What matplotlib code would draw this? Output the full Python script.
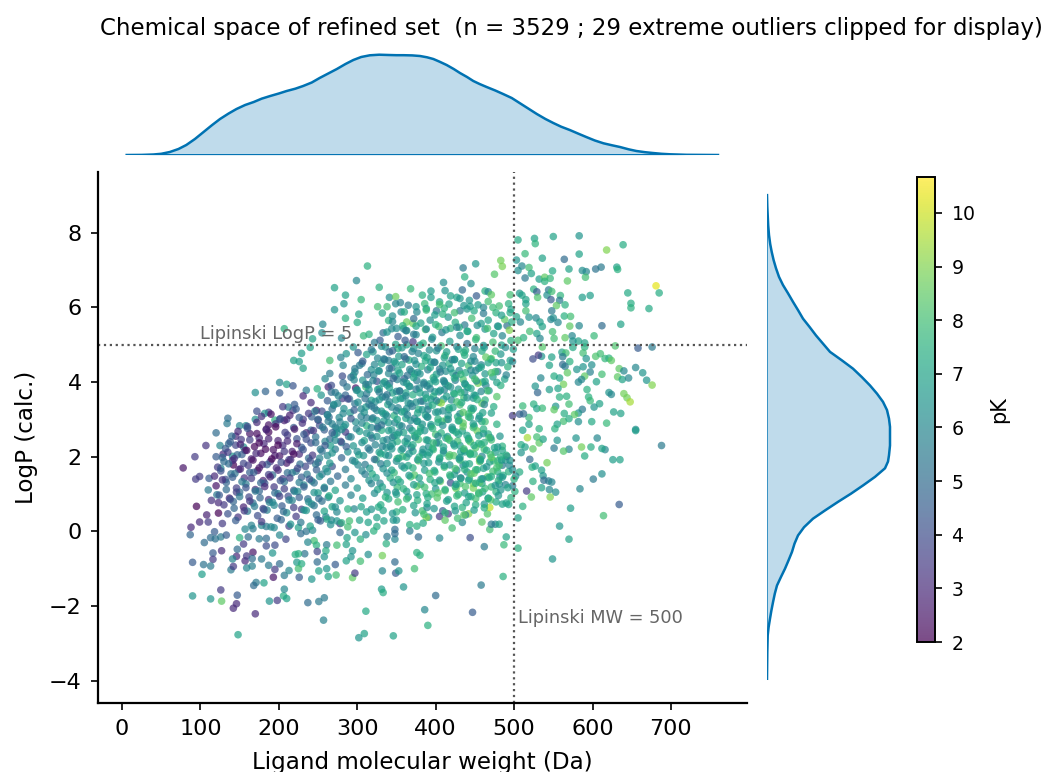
import numpy as np
import matplotlib
matplotlib.use('Agg')
import matplotlib.pyplot as plt

# points, sparse parts first, region by region
ul_mw = [313,299,271,285,283,305,271,328,341,349,
         349,355,368,326,338,302,285,300,340,256,
         207,255,243,280,308,315,333,344,240,229,
         219,226,231,265,295,301,286,279,282,201,
         210,218,170,183,201,235,249,172,187,182,
         135,134,170,150,158,187,195,231,241,220,
         248,218,212,201,210,231,242,263,267,281,
         265,259,254,267,298,281,311,295,306,297,
         320,329,340,352,363,371,363,371,359,376,
         365,356]
ul_logp = [7.11,6.72,6.53,6.33,6.10,6.21,5.94,6.54,6.27,6.29,
           6.10,6.13,6.50,6.02,6.02,5.82,5.71,5.60,5.65,5.55,
           5.43,5.32,5.16,5.18,5.24,5.28,5.32,5.43,4.93,4.77,
           4.58,4.55,4.37,4.58,4.94,4.79,4.76,4.66,4.45,3.99,
           3.94,3.90,3.72,3.75,3.71,3.78,3.82,3.22,3.19,3.16,
           3.03,2.89,3.00,2.83,2.83,2.85,2.98,3.63,3.45,3.40,
           3.24,3.24,3.33,3.00,3.00,3.00,3.07,3.87,3.91,4.16,
           4.23,4.09,3.65,3.73,3.84,3.56,3.87,4.18,4.50,4.36,
           4.81,5.12,4.58,4.90,5.00,5.08,5.61,5.57,5.43,5.88,
           6.06,5.88]
ul_pk = [7.5,6,7,7,6.5,7.7,6.5,7.5,6.3,8.7,
         6,5.8,7.8,8,8,7,7.5,7.3,7.5,6,
         7.5,6.2,7,6,7.7,7.5,5,6,7,6.8,
         7,6.8,7,8,6.5,4.5,6.5,5.8,6,6,
         7,4.3,6.3,4.8,4.5,5.5,7.5,4,3.5,6.5,
         5,5.5,6.2,6,6,2.5,7.5,3,3,4.5,
         2.7,3.5,5.5,4.5,3.5,3.5,4.5,2.8,4,4,
         5.5,6,6.5,5,2.5,3.5,8,7,5.5,5.5,
         6.5,4.5,5.5,7.5,7,3.5,8.7,8.7,6,6,
         5.5,6]

ur_mw = [550,583,526,505,527,639,618,514,583,536,
         503,564,483,485,451,435,510,519,505,549,
         570,587,592,604,611,631,632,522,475,437,
         514,532,539,539,546,568,591,410,445,681,
         685,645,649,649,672,394,412,434,463,467,
         471,452,495,507,525,529,530,544,542,548,
         547,559,558,587,597,515,510,383,394,427,
         419,431,443,467,481,386,405,417,444,454,
         461,493,515,554,565,548,477,515,495,431,
         401,388,564,572,519,528,550,547,556,533,
         536,571,583,612,636,508,503,491,549,551,
         565,602,574,520,529,533,512,505,582,590,
         575,536,575,590,629,658,676,588,561,566,
         562,548,535,531,524,592,604,610,616,621,
         624,571,545,562,565,599,588,580,597,634,
         640,655,664,632,638,646,669,676,612,605,
         590,568,563,551,558,534,582,586,593,545,
         556,530,527,621,624,640,644,648,609,602,
         595,597,558,567,570,525,529,536,553,551,
         511,587,582,564,577,627,636,599,618,563,
         582,570,555,552,532,655,511,519,519,507,
         498,512]
ur_logp = [7.90,7.92,7.85,7.81,7.71,7.68,7.54,7.44,7.43,7.32,
           7.27,7.29,7.26,7.10,7.17,7.06,7.11,7.07,6.99,6.98,
           7.03,6.99,6.96,7.03,7.08,7.08,7.02,6.91,6.89,6.82,
           6.79,6.76,6.81,6.70,6.78,6.71,6.81,6.67,6.64,6.58,
           6.39,6.39,6.11,5.99,5.97,6.44,6.45,6.47,6.44,6.42,
           6.34,6.31,6.34,6.38,6.49,6.42,6.27,6.47,6.33,6.43,
           6.21,6.32,6.19,6.27,6.32,6.21,6.33,6.33,6.27,6.27,
           6.31,6.24,6.19,6.16,6.04,6.10,6.15,6.09,6.03,6.07,
           6.00,6.10,6.10,6.05,6.07,5.91,5.86,5.91,5.86,5.91,
           5.91,5.97,5.77,5.76,5.74,5.72,5.72,5.68,5.60,5.61,
           5.49,5.50,5.51,5.51,5.55,5.61,5.75,5.51,5.35,5.17,
           5.19,5.24,5.24,5.36,5.30,5.17,5.19,5.12,5.10,5.05,
           5.10,4.94,4.93,4.94,4.97,4.91,4.94,4.78,4.80,4.78,
           4.68,4.67,4.69,4.72,4.62,4.63,4.69,4.76,4.63,4.64,
           4.58,4.55,4.45,4.47,4.42,4.46,4.41,4.34,4.27,4.36,
           4.30,4.39,4.25,4.14,4.07,4.11,4.05,3.92,4.21,4.01,
           4.16,4.25,3.94,4.16,4.11,4.11,4.00,4.07,3.80,3.80,
           3.83,3.72,3.89,3.72,3.67,3.69,3.58,3.47,3.42,3.33,
           3.60,3.50,3.60,3.62,3.41,3.41,3.29,3.30,3.35,3.26,
           3.36,3.27,3.17,3.16,3.13,3.20,3.16,2.94,2.90,2.95,
           2.94,3.02,2.87,2.75,2.75,2.73,2.71,2.87,3.05,3.14,
           3.10,3.15]
ur_pk = [7,6.5,7,7.2,7.6,7.3,9,7.8,7,7,
         6.5,5,8.8,8.9,6.6,5.5,6,8,6.3,7.2,
         7,6.3,6,5.3,5.5,7,7.5,7,8.3,7.5,
         5.5,6.8,8.5,7.5,7.7,8.5,8,6.2,6.3,10.3,
         7.3,7.2,7.3,7.5,7.2,6.7,6.5,5,7.5,6,
         8.5,4.5,8,6.6,7.5,4.5,8.2,5.5,6.3,8,
         4.5,7.6,5.5,6.8,6.8,7,7,7.5,6.8,7,
         7,6.5,6.5,8,8,7.8,7,7,6.8,6.8,
         6,7.5,7,8.5,7.5,5.5,7.5,8,7.3,5.5,
         5.5,6.8,7.5,8,6.5,6,6.3,6,6,6.8,
         7,8.5,6,5,7,6,7,5.2,8,8,
         8.5,7.8,6,8,7,6,7.5,8,7,7,
         6.5,8.3,7.2,7.5,8.2,4.5,5.5,8,7,8,
         5.5,7,6.5,3.5,4,6.5,8.2,8,7.7,7.5,
         8.5,7.5,7,5,5.5,6.3,6.5,6.5,5.8,8.5,
         6,6,6.5,8.5,7,6,6.5,9,8,7,
         8.5,8.5,8.8,7.3,7,6,6,6,7.5,6.8,
         7,4.8,6.5,6.5,6,8.8,8.8,9.5,7,6.5,
         7.5,7.8,7.5,7.5,8,7.5,7,7.8,6.5,8.5,
         7.8,5.5,6.5,7.3,8.5,7,7,7.2,7.8,8,
         6.3,7.3,7,7.5,7.5,6.3,7,7,7.8,4.5,
         3.5,5]

ll_mw = [78,93,107,120,125,99,94,111,120,129,
         136,145,155,141,126,142,110,121,114,123,
         95,108,123,99,110,88,87,118,105,113,
         119,126,133,127,116,116,90,104,113,102,
         126,90,113,127,147,146,142,170,148,188,
         198,206,210,207,237,251,258,257,311,302,
         309,346,181,171,168,193,207,226,242,213,
         263,273,294,297,331,333,359,261,251,272,
         286,304,292,314,332,332,348,349,353,373,
         376,337,348,338,348,348,367,378,376,367,
         321,304,311,297,287,286,274,261,294,245,
         237,248,260,249,233,225,221,258,223,229,
         249,225,201,187,195,166,159,139,142,147,
         146,141,157,159,167,166,178,192,184,175,
         209,201,195,184,155,150,161,167,157,178,
         194,184,213,225,228,235,243,267,278,288,
         278,274,250,260,290,303,314,325,333,350,
         325,334,346,374]
ll_logp = [1.70,2.00,2.30,2.64,2.30,1.47,1.40,1.42,2.00,2.07,
           2.35,2.55,2.26,2.01,1.69,1.78,1.11,0.98,0.83,0.77,
           0.67,0.44,0.49,0.25,0.25,0.11,-0.09,-0.01,-0.30,-0.17,
           -0.20,-0.15,-0.10,-0.52,-0.58,-0.75,-0.83,-0.89,-0.93,-1.15,
           -1.57,-1.73,-1.81,-1.87,-1.71,-1.94,-2.06,-2.21,-2.77,-1.87,
           -1.85,-1.73,-1.80,-1.55,-1.91,-1.88,-1.78,-2.38,-2.14,-2.85,
           -2.74,-2.80,-1.38,-1.37,-1.45,-1.23,-1.18,-1.23,-1.28,-1.05,
           -1.21,-1.17,-1.24,-1.12,-1.55,-1.64,-1.49,-1.00,-1.06,-0.89,
           -0.79,-0.80,-0.68,-0.62,-0.65,-1.06,-0.82,-1.12,-1.06,-1.00,
           -0.57,-0.33,-0.21,-0.14,-0.06,0.05,0.01,-0.15,0.14,0.18,
           0.01,-0.21,-0.09,-0.03,-0.17,-0.35,-0.37,-0.36,-0.52,-0.25,
           -0.29,-0.37,-0.52,-0.54,-0.60,-0.60,-0.62,-0.68,-0.83,-0.87,
           -0.82,-1.00,-0.87,-0.91,-1.02,-0.93,-0.98,-1.03,-0.94,-0.48,
           -0.67,-0.74,-0.79,-0.66,-0.56,-0.73,-0.74,-0.58,-0.19,-0.20,
           -0.21,-0.10,-0.37,-0.39,-0.34,-0.17,-0.15,0.07,0.06,0.16,
           0.10,0.13,0.14,0.10,-0.06,0.00,0.03,0.30,0.21,0.12,
           -0.03,0.28,0.31,0.39,0.28,0.30,0.24,0.37,0.56,0.52,
           0.13,0.28,0.30,0.50]
ll_pk = [2.5,3.5,3.3,5,6,3.5,3.5,4.5,4.5,3,
         5,3,6.5,6.5,6,2,5.5,5.5,3.2,3,
         2,2.8,2,3,3.5,3,4.8,4.5,5,5,
         5.2,5.5,4.5,3,4.5,3.5,4.5,5.3,5.5,6.8,
         3.5,6.5,6.5,8.5,4.5,3,3,3,7,6.5,
         3.5,7.3,7,6,5,5.5,5.5,5.8,7.2,6.5,
         7,7,7,5.5,5,2.5,5.5,4.5,6.5,6,
         7,8,8.5,3.5,6.8,7.3,6.5,6.5,7,4.5,
         7,8,6.5,6.3,8.8,6,5,4.5,6.5,8,
         7.5,7.5,6,5.5,5,5,5.5,5,7.5,7.5,
         7.5,7.5,6.3,6.5,7,7,8,5.5,6.5,8,
         6,7.5,7.3,3.8,5.3,7.5,7.3,6.5,6.7,7.3,
         5,8,5,5.5,3.5,5.7,6,5.5,3.5,5,
         3,6,3,3.5,2.5,5,5.5,6.5,5,5.5,
         3.8,6,4,4,3.5,7.5,5,5.5,6,6,
         6,5.5,3.7,7,5,5.2,6,6,3.5,8,
         4.8,6.5,4.5,5.5,8,7,7,7,7,7.5,
         7.3,7,6.5,6.5]

lr_mw = [688,655,635,626,616,612,606,598,586,590,
         579,570,563,551,555,532,524,517,537,529,
         509,514,509,520,542,523,527,535,507,537,
         612,601,584,538,544,548,524,535,545,553,
         516,522,546,634,572,614,511,505,558,570,
         549,505,490,487,462,444,405,458,486,447,
         400,386,390,380,421,434,459,469,476,481,
         471,466,442,438,416,405,412,391,388,383,
         389,409,425,434,469,485,493,477,462,451,
         467,455,477,501,498,481,459,448,442,482,
         502,479,493,466,453,460,432,419,426,427,
         435,456,474,479,489,485,494,491,485,459,
         444,432,440]
lr_logp = [2.30,2.70,1.92,1.92,2.19,2.22,2.50,2.26,2.26,2.02,
           2.50,2.20,2.15,2.23,2.44,2.37,2.21,2.51,2.47,2.53,
           2.32,2.26,2.11,1.93,1.84,1.72,1.75,1.64,1.59,1.49,
           1.54,1.40,1.14,1.37,1.35,1.32,1.34,1.17,1.12,1.05,
           1.08,0.92,0.92,0.72,0.62,0.42,0.67,0.36,0.14,-0.21,
           -0.74,-0.45,-0.15,-0.36,-0.41,-0.17,-0.18,-1.44,-1.21,-2.17,
           -1.72,-2.10,-2.52,-0.64,0.09,0.24,0.25,0.05,0.19,0.19,
           0.19,0.47,0.47,0.44,0.47,0.40,0.30,0.38,0.37,0.55,
           0.64,0.55,0.55,0.64,0.64,0.73,0.72,0.79,0.73,0.71,
           0.89,1.01,1.06,1.07,1.22,1.27,1.28,1.28,1.37,1.46,
           1.48,1.60,1.60,1.46,1.65,1.41,1.43,1.30,1.15,1.64,
           1.77,1.87,1.89,1.89,1.91,1.77,1.77,2.01,2.17,2.01,
           2.08,2.13,1.59]
lr_pk = [5.5,6.8,7,6.8,6,7,6,7.3,8.8,7.3,
         6.5,6,8.3,5.5,6.5,8.5,8.5,9.5,7,8,
         7.3,7,6.5,5,8.8,7.5,7,7,7.3,6.5,
         6.3,5.5,6,5,5.5,6,7.5,7,6,6.3,
         3.5,8.5,9,4.5,6.8,8,7.5,7,6.5,7,
         6.5,7.5,7,7.8,5.5,4,6,5.5,7.5,4.5,
         5,6,7.5,7.5,8,6,8.5,8,6,7,
         5.5,8.3,9,6,3.5,3.5,8.5,6.5,9,8,
         6,4.5,6.5,7.5,9.8,7,7,7.2,6.5,7.3,
         6.8,7,7.5,7.5,5.5,6.5,7,8.8,7,6,
         6,7.3,7.5,8.5,7.5,6,4.5,4,8.8,6,
         6,8.8,8,7.7,6.5,5.5,6,4.8,7,6,
         7,7,6.3]

# crowded middle of the cloud, one row per LogP band
mid_mw = [345,358,372,381,393,404,416,425,437,446,458,467,479,488,497,409,
          338,352,363,375,387,396,408,419,431,441,452,463,474,485,494,430,
          322,336,349,361,372,384,395,407,418,429,440,451,462,473,484,496,
          312,326,341,353,366,378,389,401,412,424,436,448,459,471,483,495,
          303,318,331,344,357,369,382,394,405,417,430,442,455,467,479,492,
          292,307,321,335,348,360,373,385,397,410,422,435,447,460,473,488,
          287,300,314,328,341,354,366,379,392,404,416,429,441,454,468,483,
          276,290,304,318,332,345,358,371,384,397,410,423,436,449,463,478,
          270,283,297,311,325,339,352,365,378,391,404,417,431,445,459,474,
          262,277,291,305,319,333,347,360,373,387,400,414,428,442,456,471,
          268,283,298,312,326,340,354,368,381,394,408,421,435,449,463,478,
          274,289,303,317,331,345,359,373,386,400,413,426,440,453,467,482,
          280,295,309,323,337,351,364,378,391,404,418,431,444,458,471,485,
          288,302,316,330,344,358,371,384,397,410,423,436,449,462,476,490,
          297,310,324,338,351,365,378,391,405,418,431,443,456,469,481,495,
          306,319,333,347,360,373,386,399,411,424,437,449,461,473,486,498,
          315,329,342,355,368,381,393,406,419,431,443,456,468,480,489,500,
          326,338,351,363,376,388,400,412,425,437,448,460,471,483,350,395,
          340,352,365,377,389,402,414,427,439,451,305,318,330,445,470,490,
          360,375,388,399,411,424,436,449,461,473,484,496,345,332,405,440]
mid_logp = [5.62,5.51,5.70,5.58,5.66,5.49,5.74,5.60,5.53,5.71,5.57,5.66,5.50,5.68,5.61,5.82,
            5.34,5.22,5.38,5.27,5.41,5.20,5.33,5.44,5.25,5.36,5.19,5.42,5.30,5.24,5.39,5.47,
            5.06,4.94,5.01,5.12,4.90,5.04,5.15,4.97,5.09,4.88,5.03,5.14,4.93,5.07,4.99,5.11,
            4.74,4.64,4.81,4.69,4.59,4.77,4.66,4.84,4.71,4.61,4.79,4.68,4.83,4.63,4.75,4.58,
            4.45,4.33,4.50,4.38,4.47,4.29,4.42,4.54,4.35,4.49,4.31,4.44,4.37,4.52,4.28,4.41,
            4.13,4.05,4.19,4.01,4.16,4.09,4.22,3.99,4.12,4.04,4.24,4.07,4.18,4.00,4.14,4.08,
            3.87,3.79,3.93,3.82,3.96,3.76,3.89,3.84,3.95,3.74,3.90,3.81,3.86,3.97,3.77,3.91,
            3.63,3.55,3.68,3.51,3.60,3.71,3.57,3.66,3.49,3.62,3.54,3.70,3.58,3.65,3.52,3.61,
            3.38,3.29,3.42,3.33,3.24,3.40,3.31,3.44,3.27,3.36,3.46,3.26,3.39,3.30,3.43,3.34,
            3.13,3.05,3.18,3.08,3.01,3.16,3.10,3.21,3.03,3.12,3.19,3.00,3.07,3.15,3.09,3.17,
            2.88,2.80,2.93,2.83,2.76,2.91,2.84,2.97,2.78,2.86,2.95,2.79,2.90,2.82,2.94,2.87,
            2.63,2.54,2.68,2.58,2.71,2.52,2.65,2.56,2.70,2.60,2.50,2.66,2.57,2.69,2.61,2.55,
            2.38,2.29,2.43,2.32,2.25,2.41,2.35,2.46,2.27,2.37,2.44,2.30,2.40,2.33,2.45,2.28,
            2.13,2.05,2.18,2.08,2.21,2.01,2.15,2.06,2.19,2.10,2.03,2.17,2.07,2.20,2.12,2.04,
            1.87,1.79,1.92,1.82,1.95,1.76,1.89,1.84,1.97,1.78,1.91,1.81,1.94,1.86,1.77,1.90,
            1.62,1.54,1.68,1.57,1.70,1.51,1.64,1.59,1.72,1.53,1.66,1.56,1.69,1.61,1.50,1.65,
            1.37,1.29,1.43,1.32,1.46,1.26,1.39,1.34,1.47,1.28,1.41,1.31,1.44,1.36,1.25,1.40,
            1.12,1.04,1.18,1.07,1.21,1.01,1.14,1.09,1.20,1.03,1.16,1.06,1.19,1.11,0.99,1.00,
            0.87,0.79,0.92,0.83,0.74,0.90,0.81,0.95,0.77,0.88,0.66,0.59,0.71,0.93,0.84,0.76,
            5.88,6.02,5.93,5.80,5.98,5.86,6.05,5.91,5.84,6.00,5.79,5.95,5.77,5.85,6.08,5.96]
mid_pk = [6,7.5,5,7,6.2,8,6.5,7.3,5.5,8,6.8,7,6,8.5,7.3,7.5,
          6.5,4.5,7,6,8,6.7,5.5,7.5,6.3,7,8,6.5,7,6,9,7.3,
          5.5,6.3,7,4.5,6.5,7.5,6,8,6.8,7,5.3,7.7,6.5,8,7,7.5,
          7,6,5,6.7,7.3,5.8,7,6.4,8,6.8,7.5,6,7.2,8.5,6.6,7,
          5.5,6.3,6.8,5,7,6.2,7.5,6.6,5.5,7.3,6,8,6.8,7,5.5,7.5,
          5,6.5,5.8,7,6.3,4.5,7,6.5,7.5,6,7,8.2,6.5,7.5,6.8,7,
          5.5,6.8,6,7,5,6.5,7.2,6.3,7,5.8,7.7,6.6,7,8.8,6.5,7.5,
          6,5,6.5,6.8,5.8,7,6.2,7.3,6,7.5,6.5,7,8,6.8,7.5,8.3,
          5.5,6.3,5.2,6.7,6,7,5.8,6.5,7.3,6.2,7.5,6.8,8,7,8.5,7.3,
          5,6,6.6,5.6,7,6.2,7.5,6.5,5.8,7,6.6,8,7.3,7.7,6.8,7,
          5.8,6.8,6.2,7.5,5.5,6.6,7,6.2,7.7,6.8,8,6.5,8.5,7,8,7.5,
          6,5.3,6.8,6.3,7.3,5.8,7,7.7,6.5,8,6.8,7.5,7,8.7,7.3,6.5,
          5.5,6.5,7,5.8,6.6,7.5,6.8,8,6.3,7.3,7.8,6.8,8.5,7.2,8,7.5,
          6.3,7,5.5,7.3,6.6,8,7,6.5,7.8,7,8.3,6.5,7.5,8,6.8,7.5,
          6.8,5.5,7.5,6.6,8,7,8.5,6.8,7.5,6.5,8,7.2,8.8,7,8,6.5,
          6,7.3,6.5,7.8,7,8.3,6.8,7.5,8,6.6,7.5,8.5,7,8,7.3,6.2,
          6.5,5.8,7.5,7,8,6.8,7.5,8.5,6.6,8,7.2,8.3,7,7.5,5.8,7.5,
          7,6.5,7.8,6.8,8.5,7.3,6.5,8,7.5,6.8,8.8,7,7.7,6.5,7,8,
          7.2,8,6.6,7.5,7,8.3,6.8,7.8,7,8,7,6.5,7.3,7.5,8.2,7,
          7.3,6.5,7.8,6.8,7.5,8,6.5,7.2,5.5,7.8,6.8,7,6.3,7,8,6.6]

# second pass through the same bands, between the first rows
mid2_mw = [318,331,345,357,370,380,392,403,414,427,438,450,461,476,489,499,
           307,322,335,349,362,375,387,399,409,421,433,445,458,470,484,498,
           297,313,327,340,352,364,377,390,401,413,426,438,451,463,476,490,
           282,296,311,325,338,351,363,376,389,400,412,425,438,452,464,478,
           272,285,299,312,326,338,350,362,375,387,399,411,424,437,451,466,
           262,275,288,301,315,328,341,355,368,381,394,407,420,433,448,462,
           255,268,282,296,309,322,336,350,363,377,390,403,417,431,446,460,
           250,264,278,292,306,320,334,348,362,376,389,403,416,430,444,459,
           258,272,285,299,312,326,340,353,367,380,394,407,421,434,448,461,
           265,279,292,306,319,333,347,361,374,388,401,415,428,442,455,470,
           272,286,300,314,328,342,356,369,383,396,410,424,437,451,465,479,
           280,294,308,322,336,350,363,377,390,404,417,430,444,457,471,484,
           268,285,301,316,330,344,357,371,385,398,411,425,438,451,465,478,
           275,292,310,324,338,352,366,379,392,405,418,432,445,458,471,485,
           285,300,318,332,346,359,372,386,399,412,426,438,451,463,476,492,
           292,307,322,336,349,363,376,390,403,416,429,442,455,467,480,496,
           296,312,327,345,358,372,385,398,412,424,436,449,462,350,384,428]
mid2_logp = [4.87,4.96,4.84,4.92,4.82,4.99,4.86,4.91,4.81,4.95,4.85,4.90,4.98,4.83,4.93,4.88,
             4.56,4.47,4.60,4.51,4.62,4.48,4.57,4.53,4.45,4.60,4.50,4.56,4.46,4.61,4.52,4.55,
             4.27,4.20,4.30,4.23,4.32,4.18,4.26,4.33,4.21,4.29,4.17,4.25,4.31,4.22,4.28,4.19,
             3.98,4.06,3.94,4.02,3.92,4.07,3.97,4.04,3.90,4.01,3.96,4.05,3.93,4.03,3.91,3.99,
             3.72,3.65,3.78,3.69,3.80,3.66,3.75,3.71,3.81,3.67,3.74,3.79,3.68,3.73,3.64,3.77,
             3.50,3.43,3.55,3.46,3.41,3.53,3.47,3.56,3.42,3.49,3.54,3.44,3.52,3.45,3.57,3.40,
             3.22,3.28,3.16,3.25,3.19,3.30,3.14,3.23,3.29,3.17,3.26,3.20,3.31,3.15,3.24,3.18,
             2.98,3.06,2.93,3.02,2.90,3.04,2.96,2.91,3.03,2.95,3.07,2.92,3.00,2.97,3.05,2.94,
             2.72,2.79,2.66,2.75,2.63,2.80,2.70,2.65,2.77,2.68,2.81,2.64,2.74,2.69,2.78,2.62,
             2.47,2.41,2.53,2.38,2.50,2.43,2.56,2.40,2.52,2.45,2.37,2.54,2.42,2.49,2.36,2.51,
             2.20,2.27,2.14,2.23,2.12,2.28,2.18,2.25,2.11,2.22,2.16,2.29,2.13,2.24,2.17,2.26,
             1.97,1.90,2.03,1.93,2.05,1.88,1.99,1.92,2.04,1.86,2.00,1.94,2.06,1.89,1.98,1.91,
             1.74,1.66,1.78,1.69,1.81,1.64,1.75,1.70,1.82,1.63,1.76,1.68,1.80,1.65,1.73,1.71,
             1.48,1.41,1.53,1.44,1.56,1.39,1.50,1.43,1.55,1.37,1.51,1.42,1.54,1.40,1.47,1.45,
             1.24,1.16,1.28,1.19,1.31,1.14,1.25,1.18,1.30,1.12,1.26,1.20,1.29,1.15,1.23,1.17,
             0.97,0.89,1.02,0.92,1.05,0.87,0.98,0.91,1.03,0.85,0.99,0.93,1.04,0.88,0.96,0.90,
             0.60,0.52,0.65,0.48,0.58,0.69,0.46,0.61,0.50,0.67,0.44,0.57,0.63,0.30,0.22,0.35]
mid2_pk = [5.5,6.2,4.8,6.5,5.8,7,6.2,5.5,6.8,6,7.3,5.8,6.5,7.8,6.2,6.8,
           4.5,6,5.5,6.8,5.2,6.3,7.2,5.8,6.5,5.5,7,6.2,5.8,7.5,6.5,6,
           5.8,5,6.5,6,7,5.3,6.2,5.7,6.8,6.2,5.5,7.2,6,6.6,7.8,5.8,
           5,6,5.5,4.2,6.3,5.8,6.8,5.5,6.2,7,6.5,5.6,7.3,6.2,5.8,7,
           5.5,4.8,6.2,5.5,6.6,5.2,6,7,5.6,6.4,6.8,5.8,7.5,6.2,6.8,8,
           4.5,5.8,3.8,6.2,5.5,6.5,5.8,6.8,6,5.4,6.6,9.2,6,7.2,6.5,5.8,
           4,5.2,6,4.5,6.4,5.6,6.8,5.8,6.2,7,5.7,6.5,7.5,6.2,7.8,7,
           3.2,5,5.8,4.4,6,5.4,6.6,6,7,5.5,6.4,7.2,6,8.2,6.8,7.4,
           4.5,5.5,3.5,5.8,6.4,5,6.8,6,5.5,7,6.2,7.5,6.6,7,8,6.5,
           5,3.8,5.8,6.2,5.2,6.6,5.8,7,6.4,7.2,5.8,6.8,8,7,7.5,6.6,
           5.5,4.5,6.2,5.5,6.8,6,7,5.6,6.6,7.5,6.2,7,6.8,8.2,7.2,6.5,
           4.8,5.8,6.4,5,6.8,6.2,7.2,6.5,7,6.2,8,6.8,7.4,7,8.5,6.8,
           4.2,5.5,6,6.6,5.6,7,6.4,7.5,6.6,7.2,6.8,8,7,7.6,6.5,8,
           4.8,6,5.6,6.8,6.2,7.4,6.6,7,8,6.4,7.6,7,8.3,6.8,7.4,6.6,
           5.5,6.5,5.8,7,6.4,7.5,6.8,8,7,7.5,6.6,8.2,7.2,7.8,6.5,7,
           5.8,6.8,6.2,7.5,6.5,7.8,7,7.3,8.3,6.8,7.6,7,8,7.3,6.6,7.5,
           6,6.8,7.2,6.5,7.5,7,8,6.6,7.6,7,8.5,6.8,7.3,6.5,7.2,8]

# third pass, centre of the cloud only
mid3_mw = [350,362,375,388,400,413,427,440,453,466,480,372,
           334,347,360,373,385,398,411,424,437,450,464,477,
           328,341,354,367,380,393,406,419,432,445,458,471,
           320,333,346,359,372,385,398,411,424,437,450,463,
           315,328,341,354,367,380,393,406,419,432,445,458,
           310,323,336,349,362,375,388,401,414,427,440,453,
           305,318,331,344,357,370,383,396,409,422,435,448,
           312,325,338,351,364,377,390,403,416,429,442,455,
           318,331,344,357,370,383,396,409,422,435,448,461,
           325,338,351,364,377,390,403,416,429,442,455,468,
           332,345,358,371,384,397,410,423,436,449,462,475,
           340,353,366,379,392,405,418,431,444,457,470,483]
mid3_logp = [5.44,5.38,5.50,5.42,5.54,5.40,5.47,5.36,5.52,5.44,5.49,5.28,
             4.62,4.55,4.68,4.58,4.71,4.53,4.65,4.60,4.72,4.56,4.67,4.52,
             4.30,4.37,4.24,4.34,4.22,4.39,4.27,4.36,4.21,4.32,4.40,4.25,
             4.04,3.97,4.10,4.00,4.12,3.95,4.06,4.01,4.11,3.96,4.08,4.02,
             3.80,3.73,3.85,3.76,3.88,3.71,3.82,3.78,3.87,3.72,3.83,3.75,
             3.56,3.48,3.60,3.52,3.63,3.46,3.57,3.50,3.62,3.47,3.58,3.53,
             3.28,3.36,3.22,3.33,3.20,3.35,3.26,3.38,3.23,3.32,3.19,3.29,
             3.04,2.97,3.09,3.00,3.12,2.95,3.06,3.01,3.11,2.96,3.07,3.02,
             2.78,2.85,2.72,2.82,2.70,2.87,2.76,2.84,2.71,2.81,2.88,2.74,
             2.54,2.46,2.59,2.49,2.62,2.44,2.55,2.48,2.60,2.45,2.57,2.51,
             2.28,2.35,2.22,2.32,2.20,2.37,2.26,2.34,2.21,2.30,2.38,2.24,
             2.03,1.96,2.08,1.99,2.11,1.94,2.05,1.98,2.10,1.93,2.06,2.00]
mid3_pk = [6.2,5.5,7,6,7.5,6.5,5.8,7.2,6.3,8,6.8,5.5,
           5.5,6.6,5,6.3,7,5.8,6.8,6.2,7.4,6,8.5,7,
           6.2,5.2,6.8,5.8,6.4,7,5.5,6.6,7.6,6,7,8.2,
           5.8,6.4,4.8,6.2,7,5.6,6.6,6,7.3,6.4,8,7,
           6.4,5.5,6.8,5.2,6.2,7,5.8,6.6,6.2,7.6,7,6,
           5.2,6.2,5.6,6.8,6,6.4,7.2,5.8,6.8,8,6.4,7.5,
           6,5.4,6.6,6,7,5.6,6.5,7.3,6.2,7,8.4,6.8,
           5.6,6.4,6,7,5.8,6.8,6.2,7.5,6.6,7.2,7.8,6.5,
           6,5.2,6.6,5.8,7,6.4,7.6,6.2,7,8.5,6.8,7.4,
           6.4,5.8,7,6.2,7.4,6.6,6,8,7,7.5,6.8,8,
           5.8,6.6,6.2,7.2,6.4,7.8,7,6.6,8,7.2,7.5,7,
           6.2,7,6.5,7.5,6.8,7,8.2,6.6,7.6,7,8,7.4]

# low weight, low pK clump
low_mw = [160,172,184,196,207,219,230,241,252,263,274,285,
          140,152,163,175,187,199,211,223,235,247,259,271,
          132,145,157,169,181,193,205,217,229,241,253,266,
          128,141,153,165,177,189,201,213,226,238,250,262,
          122,136,149,161,173,185,197,210,222,234,247,260,
          118,132,144,156,168,180,192,205,217,229,242,255,
          120,133,146,158,170,182,194,207,219,232,245,258,
          124,137,150,162,175,187,199,212,224,237,250,263,
          130,142,155,167,180,192,204,217,229,242,255,268,
          135,148,160,173,185,198,210,222,235,248,261,274,
          128,145,165,178,190,203,215,228,240,253,266,280]
low_logp = [2.81,2.92,2.74,2.88,2.97,2.78,2.90,2.71,2.84,2.95,2.75,2.86,
            2.55,2.46,2.62,2.50,2.66,2.43,2.58,2.48,2.64,2.53,2.41,2.60,
            2.22,2.31,2.17,2.27,2.35,2.19,2.30,2.14,2.25,2.37,2.20,2.29,
            1.98,1.90,2.06,1.94,2.09,1.87,2.02,1.92,2.07,1.96,1.85,2.03,
            1.72,1.81,1.66,1.77,1.63,1.79,1.70,1.83,1.61,1.74,1.80,1.68,
            1.48,1.39,1.55,1.43,1.58,1.36,1.51,1.41,1.57,1.45,1.35,1.53,
            1.22,1.31,1.16,1.27,1.12,1.29,1.19,1.33,1.10,1.24,1.30,1.18,
            0.97,0.89,1.05,0.92,1.08,0.85,1.01,0.94,1.07,0.87,1.03,0.91,
            0.71,0.80,0.65,0.76,0.61,0.78,0.68,0.83,0.59,0.73,0.81,0.66,
            0.47,0.38,0.54,0.42,0.57,0.35,0.50,0.40,0.56,0.44,0.33,0.52,
            0.21,0.29,0.16,0.26,0.12,0.31,0.19,0.24,0.14,0.28,0.18,0.23]
low_pk = [4,3,2.6,3.5,2.8,4.5,3.2,5,4,5.5,6,6.3,
          5,3.5,2.5,3,2.2,2.8,3.5,4.2,3,5.2,5.8,6.5,
          4.5,3.8,2.6,2.2,3,2.4,3.2,2.8,4.5,4,5.5,6.8,
          4.8,3,4.5,2.8,2.3,3.4,2.5,3.8,3,5,4.3,6,
          3.5,5,2.7,3.5,2.4,4.5,3,2.6,5.2,3.8,5.5,6.2,
          3,4.2,5.3,3.2,4.6,2.8,5,3.4,5.5,4.5,6,5.6,
          2.5,4.8,3.6,5.5,3,4.3,3.4,5.2,4.4,6,5.2,6.5,
          4.4,3,5,3.8,4.8,3.2,5.6,4,6.2,5,6.8,5.8,
          3.5,4.8,2.8,5.2,3.6,6,4.5,5.8,3.4,6.5,5.2,7,
          4.2,3.3,5.5,4,5.8,4.6,6.2,3.5,6.6,5,7.2,6,
          3.5,4.5,5.8,3.4,6,4.8,6.5,5.4,7,4.6,6.3,7.5]

low2_mw = [178,190,202,214,226,238,250,262,205,222,246,270,
           148,160,172,184,196,208,220,232,244,256,268,280,
           138,151,163,175,187,199,211,223,235,247,259,272,
           135,147,159,171,183,195,207,219,231,243,255,268,
           130,143,155,167,179,191,203,215,227,240,252,265,
           126,139,151,163,175,187,199,211,224,236,248,262,
           128,141,153,165,177,189,202,214,226,239,252,266,
           133,146,158,170,182,195,207,220,232,245,258,272,
           138,150,163,176,188,201,213,226,238,251,264,278,
           143,156,169,181,194,206,219,232,245,258,272,288]
low2_logp = [3.08,3.14,3.02,3.11,3.05,3.16,3.00,3.12,3.34,3.28,3.22,3.40,
             2.68,2.76,2.62,2.72,2.80,2.65,2.74,2.60,2.70,2.79,2.64,2.73,
             2.40,2.33,2.45,2.37,2.48,2.31,2.42,2.35,2.47,2.38,2.30,2.44,
             2.12,2.05,2.17,2.09,2.20,2.03,2.14,2.07,2.19,2.04,2.15,2.10,
             1.87,1.95,1.82,1.91,1.79,1.94,1.85,1.92,1.80,1.89,1.96,1.83,
             1.62,1.54,1.67,1.58,1.70,1.52,1.64,1.57,1.69,1.53,1.65,1.60,
             1.38,1.45,1.33,1.42,1.30,1.46,1.36,1.43,1.31,1.40,1.47,1.34,
             1.12,1.05,1.17,1.08,1.20,1.03,1.14,1.07,1.19,1.04,1.15,1.10,
             0.86,0.93,0.81,0.90,0.78,0.94,0.84,0.91,0.79,0.88,0.95,0.82,
             0.62,0.55,0.67,0.58,0.70,0.53,0.64,0.57,0.69,0.54,0.65,0.60]
low2_pk = [3.2,2.4,4,2.8,4.5,3.4,5,6,3.5,4.5,5.5,6.2,
           3,4.2,2.3,3,2.1,3.6,2.5,4.5,3.2,5.5,4.5,6.2,
           4.5,2.8,3.6,2.2,2.8,2.1,3,2.6,4,5,4.4,6,
           3.6,4.8,2.5,3,2.2,2.6,3.4,2.2,4.2,3.4,5.2,6.4,
           5,3.2,3.8,2.4,3.2,2.1,4,3,5,4,5.8,6.6,
           4,5.2,3,4.6,2.6,3.6,3,5,3.8,5.5,4.6,6.2,
           3.2,4.5,5.5,3.4,4.8,2.8,4.2,3.6,5.6,4.2,6.2,5.4,
           5,3.6,4.2,5.5,3,5,3.6,5.8,4.5,6.4,5.2,7,
           4,5.4,3.4,4.8,5.8,3.6,5.6,4.6,6.2,5,7.2,6.5,
           4.8,3.4,5.5,4.2,6,5,3.6,6.4,5.4,7,6.2,7.5]

# outline of the two side curves, height in px units of the picture
top_kde_mw = [6,25,40,50,61,72,82,93,104,115,125,136,146,157,168,178,189,200,210,221,
              231,242,252,263,274,285,295,305,316,328,340,350,359,370,380,389,397,405,414,423,
              431,440,448,456,465,476,486,497,507,518,529,540,550,560,571,582,592,603,614,625,
              635,646,656,667,677,688,699,720,760]
top_kde_h = [0,0.1,0.5,1.2,3,6,10,16,23,30,36,41.5,46,50,53,56.3,59,61.5,64,66.3,
             69,72.5,77,81.5,86,91,95,98,99.7,100.3,100,99.8,99.8,99.6,99,97.7,96,93.3,90,86,
             82,78,74,71,68,64.5,61,57,52,46.5,41,36,32,28.3,25,21.3,18,14.5,11.7,9.7,
             8,5.7,4,2.8,2,1.2,0.7,0.2,0]
right_kde_logp = [9.01,8.7,8.47,8.2,7.94,7.7,7.49,7.27,7.05,6.82,6.6,6.38,6.15,5.93,5.7,5.48,5.25,5.03,4.81,4.58,
                  4.36,4.13,3.91,3.69,3.47,3.25,3.02,2.8,2.57,2.3,2.04,1.87,1.69,1.46,1.23,1.01,0.79,0.56,0.34,0.11,
                  -0.11,-0.33,-0.55,-0.78,-1.0,-1.22,-1.45,-1.67,-1.9,-2.12,-2.34,-2.57,-2.79,-3.24,-3.95]
right_kde_h = [0,0.3,0.7,1.2,2,3.2,4.7,6.6,9,12,16,21,26,31,36,42.5,49,56,63,75,
               86,95,103,110,116,120,122,123,123,123,122,121,118,108,96,84,71,58,46,37,
               31,27.5,25,21.5,18,14,10,7.8,6,4.4,3,1.6,0.7,0.3,0]

mw = np.array(ul_mw + ur_mw + ll_mw + lr_mw + mid_mw + mid2_mw + mid3_mw + low_mw + low2_mw)
logp = np.array(ul_logp + ur_logp + ll_logp + lr_logp + mid_logp + mid2_logp + mid3_logp + low_logp + low2_logp)
pk = np.array(ul_pk + ur_pk + ll_pk + lr_pk + mid_pk + mid2_pk + mid3_pk + low_pk + low2_pk)

W, H = 1048, 772

def rect(x0, y0, x1, y1):
    return [x0 / W, 1 - y1 / H, (x1 - x0) / W, (y1 - y0) / H]

fig = plt.figure(figsize=(W / 200, H / 200), dpi=200)
ax = fig.add_axes(rect(98, 172, 747, 703))
ax_top = fig.add_axes(rect(98, 45, 747, 155))
ax_right = fig.add_axes(rect(767, 172, 900, 703))
cax = fig.add_axes(rect(917, 177, 935, 642))

sc = ax.scatter(mw, logp, c=pk, cmap='viridis', vmin=2, vmax=10.67, s=7.5, alpha=0.7, linewidths=0)
ax.axvline(500, color='#555555', ls=':', lw=0.8)
ax.axhline(5, color='#555555', ls=':', lw=0.8)
ax.text(505, -2.33, 'Lipinski MW = 500', fontsize=6.4, color='#666666', va='center')
ax.text(99, 5.3, 'Lipinski LogP = 5', fontsize=6.4, color='#666666', va='center')
ax.set_xlim(-30.6, 797)
ax.set_ylim(-4.6, 9.63)
ax.set_xticks([0, 100, 200, 300, 400, 500, 600, 700])
ax.set_yticks([-4, -2, 0, 2, 4, 6, 8])
ax.tick_params(labelsize=8, width=0.6, length=2.4)
ax.set_xlabel('Ligand molecular weight (Da)', fontsize=8.3, labelpad=4)
ax.set_ylabel('LogP (calc.)', fontsize=8.3, labelpad=4)
ax.spines['top'].set_visible(False)
ax.spines['right'].set_visible(False)

ax_top.fill_between(top_kde_mw, top_kde_h, 0, color='#0072B2', alpha=0.25, lw=0)
ax_top.plot(top_kde_mw, top_kde_h, color='#0072B2', lw=0.9)
ax_top.plot([top_kde_mw[0], top_kde_mw[-1]], [0, 0], color='#0072B2', lw=0.7)
ax_top.set_xlim(ax.get_xlim())
ax_top.set_ylim(0, 110)
ax_top.axis('off')

ax_right.fill_betweenx(right_kde_logp, right_kde_h, 0, color='#0072B2', alpha=0.25, lw=0)
ax_right.plot(right_kde_h, right_kde_logp, color='#0072B2', lw=0.9)
ax_right.plot([0, 0], [right_kde_logp[0], right_kde_logp[-1]], color='#0072B2', lw=0.7, alpha=0.75)
ax_right.set_ylim(ax.get_ylim())
ax_right.set_xlim(0, 133)
ax_right.axis('off')

cb = fig.colorbar(sc, cax=cax)
cb.set_ticks([2, 3, 4, 5, 6, 7, 8, 9, 10])
cb.ax.tick_params(labelsize=6.8, width=0.6, length=2.4)
cb.outline.set_linewidth(0.7)
cb.set_label('pK', fontsize=7.5, labelpad=5)

fig.text(571 / W, 1 - 28 / H, 'Chemical space of refined set  (n = 3529 ; 29 extreme outliers clipped for display)',
         ha='center', va='center', fontsize=8.26)
fig.savefig('out.png', dpi=200)
